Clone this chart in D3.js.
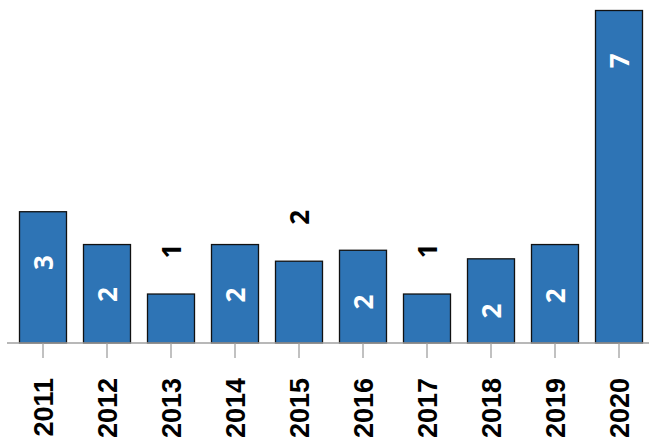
<!DOCTYPE html>
<html>
<head>
<meta charset="utf-8">
<script src="https://cdn.jsdelivr.net/npm/d3@7"></script>
<style>
  html, body { margin: 0; padding: 0; background: #fff; }
  svg { display: block; }
</style>
</head>
<body>
<svg id="chart" width="649" height="442"></svg>
<script>
const years = ["2011","2012","2013","2014","2015","2016","2017","2018","2019","2020"];
const values = [2.77, 2.08, 1.04, 2.08, 1.73, 1.96, 1.04, 1.78, 2.08, 7.0];
const labels = ["3","2","1","2","2","2","1","2","2","7"];
const labelPos = [1.69, 1.02, 1.93, 1.01, 2.64, 0.86, 1.94, 0.67, 0.99, 5.93];

const svg = d3.select("#chart");
const x = d3.scaleBand().domain(years).range([11, 651]).paddingInner(0.25).paddingOuter(0.125);
const y = d3.scaleLinear().domain([0, 7]).range([343, 10]);

const data = years.map((yr, i) => ({ yr, v: values[i], lab: labels[i], lp: labelPos[i] }));

svg.selectAll("rect.bar").data(data).enter().append("rect")
  .attr("class", "bar")
  .attr("x", d => x(d.yr) + 0.5)
  .attr("width", x.bandwidth() - 1)
  .attr("y", d => y(d.v) + 0.5)
  .attr("height", d => y(0) - y(d.v) - 0.5)
  .attr("fill", "#2e74b5")
  .attr("stroke", "#111")
  .attr("stroke-width", 1.3);

// axis
const axis = d3.axisBottom(x).tickSize(15).tickPadding(0).tickFormat("");
const g = svg.append("g").attr("transform", `translate(0,${y(0)})`).call(axis);
g.select(".domain").attr("d", "M7,0H649").attr("stroke", "#a0a0a0").attr("stroke-width", 1.5);
g.selectAll(".tick line").attr("stroke", "#a0a0a0").attr("stroke-width", 1.3);

svg.selectAll("text.tl").data(years).enter().append("text")
  .attr("class", "tl")
  .attr("transform", d => `translate(${x(d) + x.bandwidth() / 2 + 10},378) rotate(-90)`)
  .attr("text-anchor", "end")
  .attr("font-family", "Liberation Sans, Arial, sans-serif")
  .attr("font-weight", "bold")
  .attr("font-size", 27)
  .attr("fill", "#000")
  .text(d => d);

svg.selectAll("text.vl").data(data).enter().append("text")
  .attr("class", "vl")
  .attr("transform", d => `translate(${x(d.yr) + x.bandwidth() / 2},${y(d.lp)}) rotate(-90)`)
  .attr("text-anchor", "middle")
  .attr("dominant-baseline", "central")
  .attr("font-family", "Open Sans, sans-serif")
  .attr("font-weight", "bold")
  .attr("font-size", 26)
  .attr("fill", d => d.lp > d.v ? "#000" : "#fff")
  .text(d => d.lab);
</script>
</body>
</html>
